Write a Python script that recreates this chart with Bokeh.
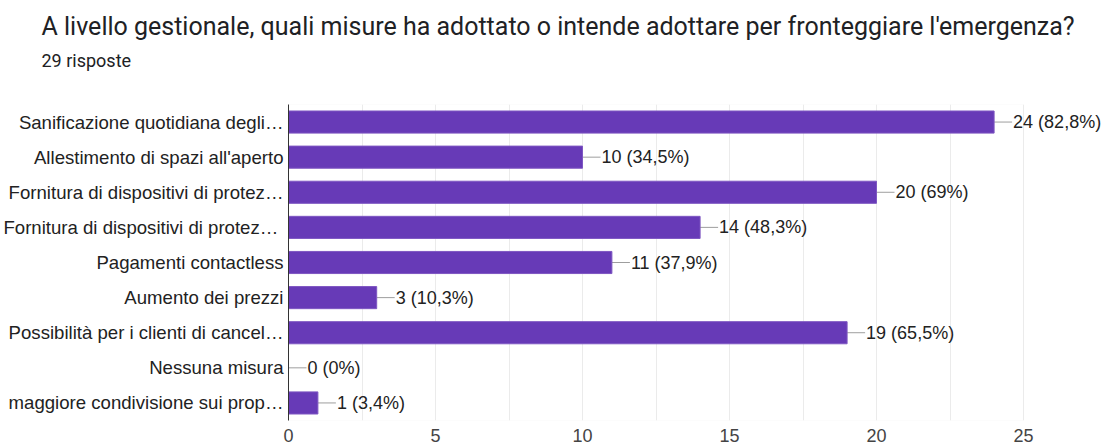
from bokeh.plotting import figure
from bokeh.models import (ColumnDataSource, FactorRange, Range1d, Title, LabelSet,
                          FixedTicker, BoxAnnotation)
from bokeh.core.properties import value
from bokeh.embed import file_html
from bokeh.resources import INLINE

# Survey answers (29 respondents)
title_text = "A livello gestionale, quali misure ha adottato o intende adottare per fronteggiare l'emergenza?"
subtitle_text = "29 risposte"
total_responses = 29

categories = [
    "Sanificazione quotidiana degli…",
    "Allestimento di spazi all'aperto",
    "Fornitura di dispositivi di protez…",
    "Fornitura di dispositivi di protez… ",
    "Pagamenti contactless",
    "Aumento dei prezzi",
    "Possibilità per i clienti di cancel…",
    "Nessuna misura",
    "maggiore condivisione sui prop…",
]
counts = [24, 10, 20, 14, 11, 3, 19, 0, 1]
x_ticks = [0, 5, 10, 15, 20, 25]
grid_step = 2.5


def pct_label(n, total):
    p = round(100.0 * n / total, 1)
    s = ("%d" % p) if p == int(p) else ("%.1f" % p).replace(".", ",")
    return "%d (%s%%)" % (n, s)


labels = [pct_label(c, total_responses) for c in counts]

W, H = 1106, 448
LEFT, TOP, BOTTOM = 288, 104, 28
AXIS_RIGHT_PX = 1023          # where the value axis ends (x = 25)
RIGHT = 2                     # frame runs further so value labels are not clipped
FONT = "Liberation Sans"

x_max = x_ticks[-1]
px_per_unit = (AXIS_RIGHT_PX - LEFT) / x_max
x_view_end = (W - RIGHT - LEFT) / px_per_unit
connector = 18 / px_per_unit

src = ColumnDataSource(dict(
    cat=categories,
    n=counts,
    end=[c + connector for c in counts],
    lab=labels,
))

p = figure(
    width=W, height=H,
    y_range=FactorRange(*reversed(categories)),
    x_range=Range1d(0, x_view_end),
    output_backend="svg", toolbar_location=None,
    min_border_left=LEFT, min_border_right=RIGHT,
    min_border_top=TOP, min_border_bottom=BOTTOM,
)
p.title = None
p.background_fill_color = "white"
p.border_fill_color = "white"
p.outline_line_color = None

# light box around the value area 0..25
p.add_layout(BoxAnnotation(left=0, right=x_max, fill_color=None,
                           line_color="#ebebeb", line_width=1, level="underlay"))

# connectors from bar end to value label
p.segment(x0="n", x1="end", y0="cat", y1="cat", source=src,
          line_color="#9e9e9e", line_width=1)
p.hbar(y="cat", right="n", left=0, height=0.63, source=src,
       fill_color="#673ab7", line_color="#7e57c2", line_width=1)
p.add_layout(LabelSet(x="end", y="cat", text="lab", source=src, x_offset=1,
                      text_font=value(FONT), text_font_size=value("18px"),
                      text_color="#222222", text_baseline="middle", text_align="left"))

# grid
n_grid = int(round(x_max / grid_step))
p.xgrid.ticker = FixedTicker(ticks=[i * grid_step for i in range(n_grid + 1)])
p.xgrid.grid_line_color = "#ebebeb"
p.ygrid.grid_line_color = None

# x axis
p.xaxis.ticker = x_ticks
p.xaxis.axis_line_color = None
p.xaxis.major_tick_line_color = None
p.xaxis.minor_tick_line_color = None
p.xaxis.major_tick_out = 0
p.xaxis.major_tick_in = 0
p.xaxis.major_label_standoff = 8
p.xaxis.major_label_text_font = FONT
p.xaxis.major_label_text_font_size = "18px"
p.xaxis.major_label_text_color = "#444444"

# y axis
p.yaxis.axis_line_color = "#333333"
p.yaxis.axis_line_width = 1
p.yaxis.major_tick_line_color = None
p.yaxis.minor_tick_line_color = None
p.yaxis.major_tick_out = 0
p.yaxis.major_tick_in = 0
p.yaxis.major_label_standoff = 5
p.yaxis.major_label_text_font = FONT
p.yaxis.major_label_text_font_size = "18.6px"
p.yaxis.major_label_text_color = "#222222"

# heading, stacked upward from the plot: blank gap, response count, question
p.add_layout(Title(text=" ", text_font_size="10px", standoff=21), "above")
p.add_layout(Title(text=subtitle_text, align="left", offset=41 - LEFT, standoff=0,
                   text_font="Roboto", text_font_size="18px", text_font_style="normal",
                   text_color="#202124"), "above")
p.add_layout(Title(text=title_text, align="left", offset=41 - LEFT, standoff=13,
                   text_font="Roboto", text_font_size="25px", text_font_style="normal",
                   text_color="#202124"), "above")

open("out.html", "w").write(file_html(p, INLINE))
